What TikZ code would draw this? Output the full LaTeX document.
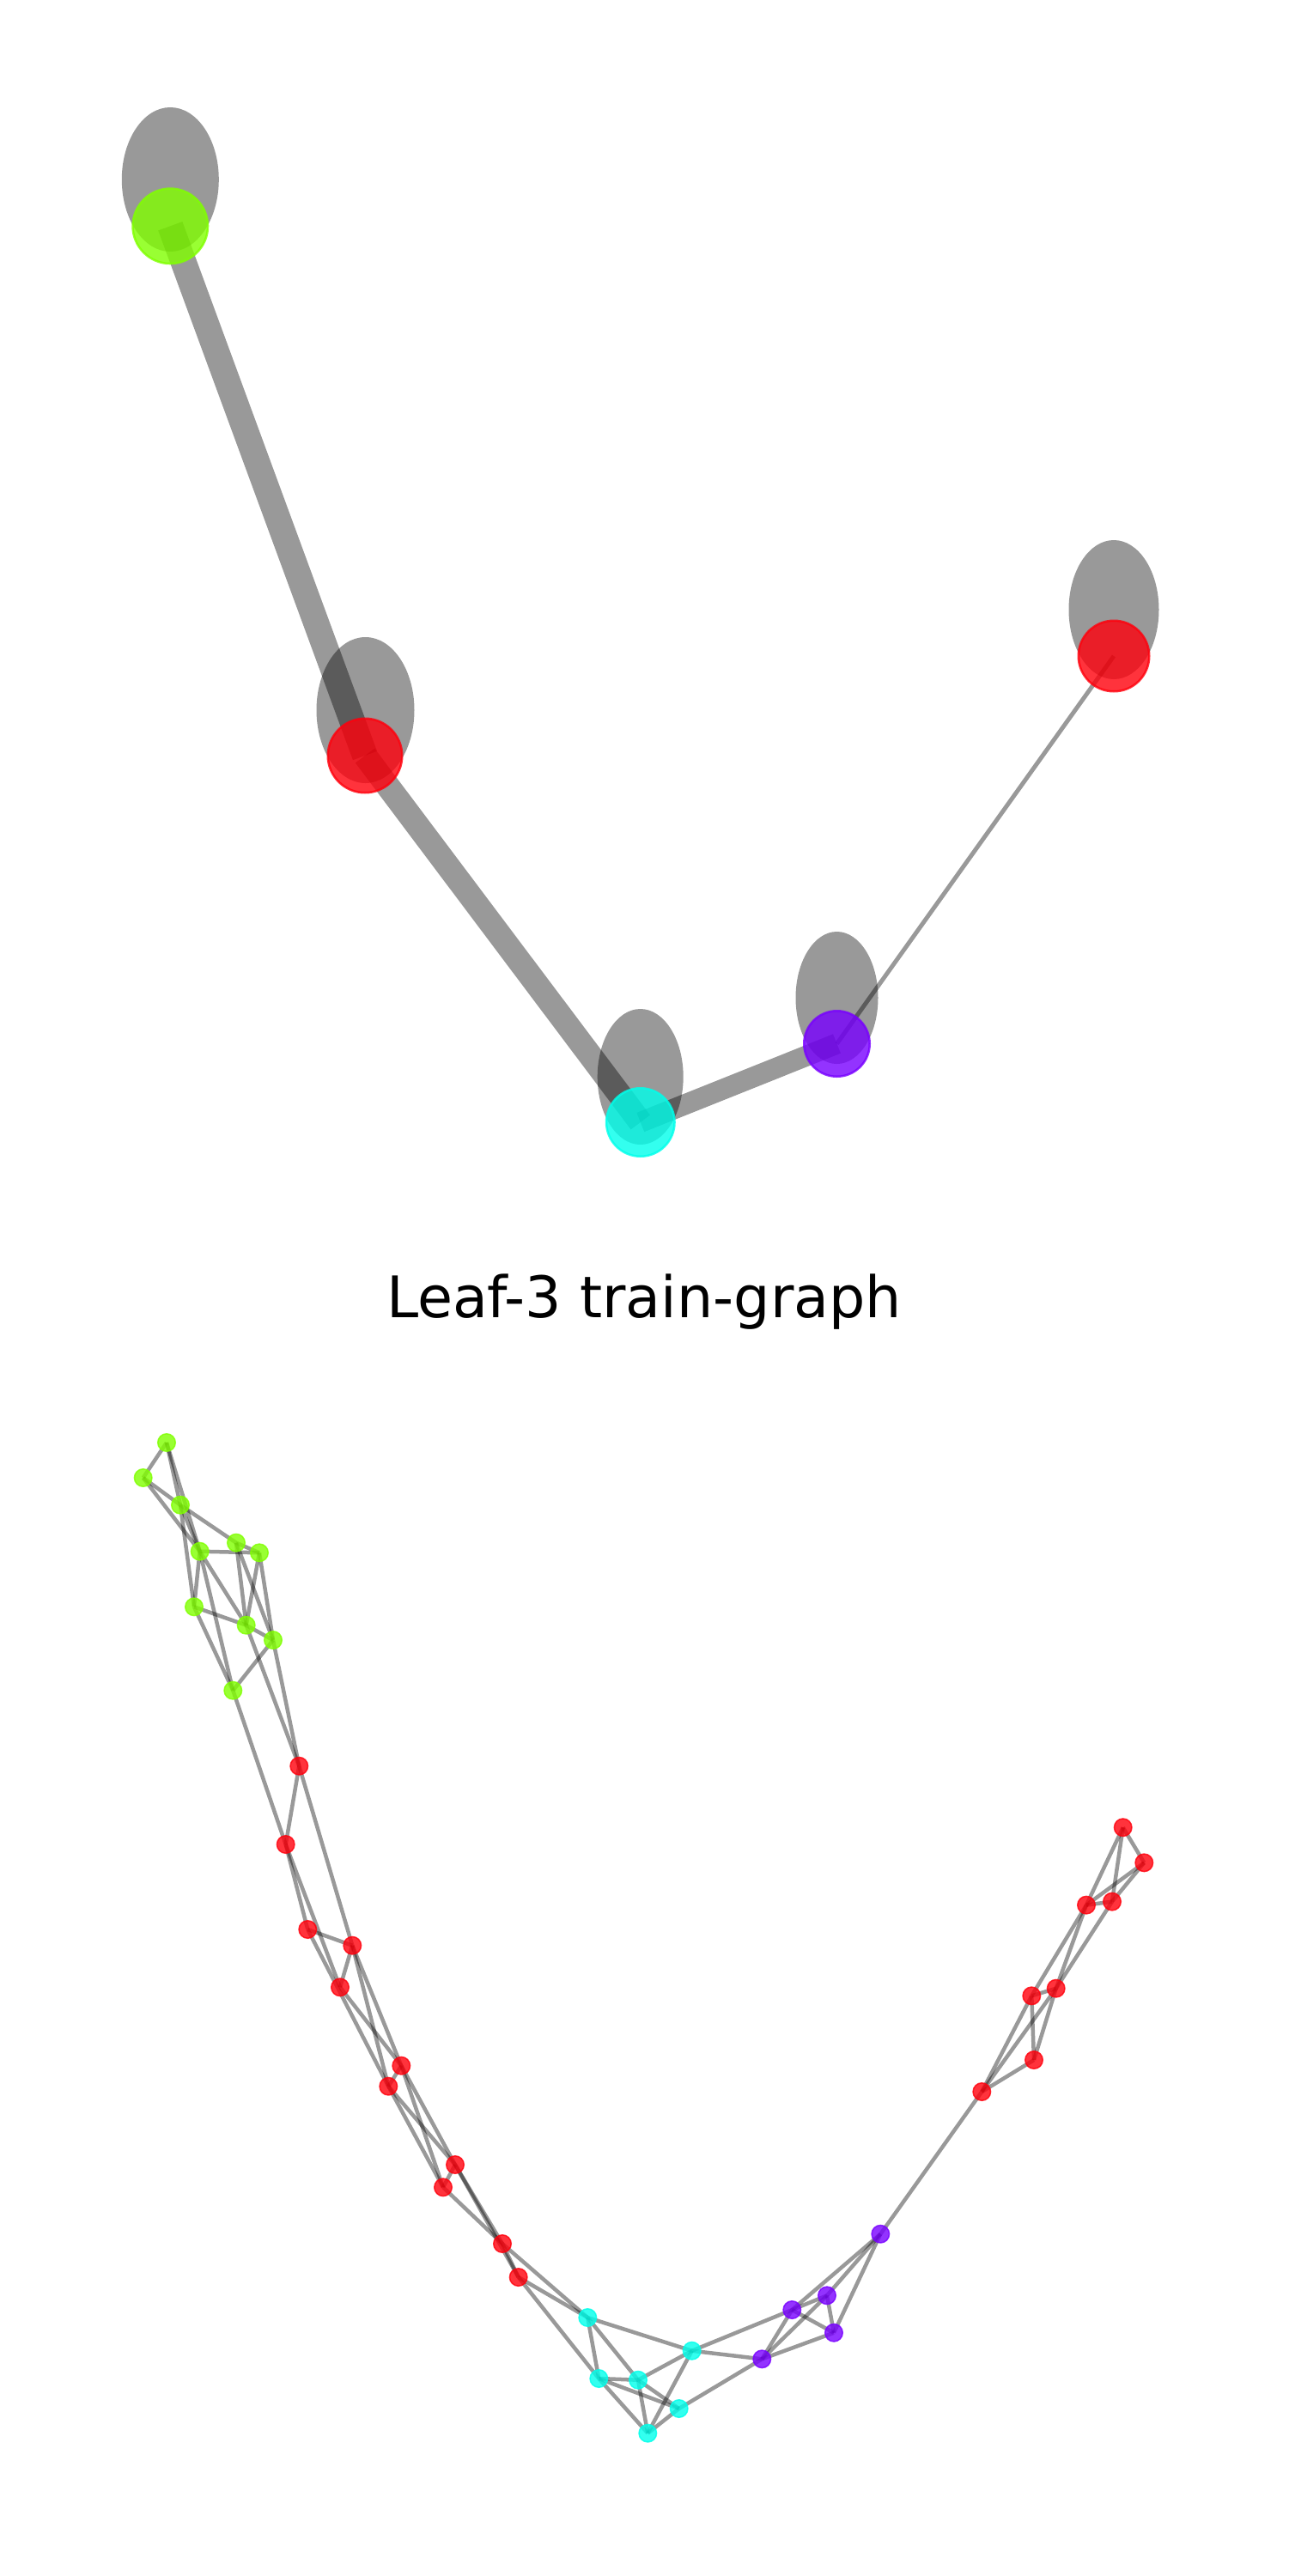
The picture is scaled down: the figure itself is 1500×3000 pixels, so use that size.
\documentclass[tikz,border=0pt]{standalone}
\usepackage{fontspec}
\setmainfont{DejaVu Sans}
\usetikzlibrary{shapes.geometric}
\pgfdeclarelayer{back}
\pgfdeclarelayer{mid}
\pgfsetlayers{back,mid,main}
\definecolor{cgreen}{RGB}{128,255,0}
\definecolor{cred}{RGB}{255,0,12}
\definecolor{ccyan}{RGB}{0,255,235}
\definecolor{cpurple}{RGB}{120,0,255}
\tikzset{
  blob/.style={ellipse, fill=black, fill opacity=0.4, draw=none, inner sep=0pt},
  bigdot/.style={circle, fill=#1, draw=#1, opacity=0.8, line width=2.5pt, inner sep=0pt},
  dot/.style={circle, fill=#1, draw=#1, opacity=0.8, line width=1.5pt, inner sep=0pt, minimum size=20.5pt},
  tedge/.style={draw=black, opacity=0.4, line cap=butt},
  edge/.style={draw=black, opacity=0.4, line width=4.5pt, line cap=butt},
}
\begin{document}
\begin{tikzpicture}[x=1pt,y=-1pt]
\begin{pgfonlayer}{back}
\fill[white] (0,0) rectangle (1500,3000);
\end{pgfonlayer}
\useasboundingbox (0,0) rectangle (1500,3000);

% ---------- top panel ----------
\node[blob, minimum width=113pt, minimum height=168pt] (eA) at (198.3,209) {};
\node[blob, minimum width=114pt, minimum height=170pt] (eB) at (425.5,827) {};
\node[blob, minimum width=100pt, minimum height=158pt] (eC) at (745.7,1254) {};
\node[blob, minimum width=96pt, minimum height=154pt] (eD) at (974.5,1162) {};
\node[blob, minimum width=105pt, minimum height=162pt] (eE) at (1297,710) {};

\node[bigdot=cgreen, minimum size=87.5pt] (A) at (198.3,263.3) {};
\node[bigdot=cred, minimum size=86.5pt] (B) at (425,880) {};
\node[bigdot=ccyan, minimum size=79.5pt] (C) at (745.8,1307) {};
\node[bigdot=cpurple, minimum size=76.5pt] (D) at (974.5,1215.5) {};
\node[bigdot=cred, minimum size=82.5pt] (E) at (1297,764) {};

\begin{pgfonlayer}{mid}
\draw[tedge, line width=30pt] (A.center) -- (B.center);
\draw[tedge, line width=28pt] (B.center) -- (C.center);
\draw[tedge, line width=24pt] (C.center) -- (D.center);
\draw[tedge, line width=5pt] (D.center) -- (E.center);
\end{pgfonlayer}

% ---------- title ----------
\node[anchor=base, inner sep=0pt, font=\fontsize{66.7}{80}\selectfont] (title) at (750,1534) {Leaf-3 train-graph};

% ---------- lower graph ----------
\foreach \n/\x/\y in {g1/194/1680, g2/166.7/1721, g3/210/1752.7, g4/232.7/1806.7, g5/275/1796.7,
  g6/302/1808.3, g7/226/1871.3, g8/286.7/1892.7, g9/318/1910, g10/271.3/1968.7}
  \node[dot=cgreen] (\n) at (\x,\y) {};
\foreach \n/\x/\y in {r1/348.3/2056.7, r2/332.7/2148, r3/358.3/2247, r4/410.3/2265.7, r5/396/2314.3,
  r6/467.3/2405.7, r7/452.3/2429.7, r8/530/2521, r9/516/2547.3, r10/585/2613, r11/603.7/2652,
  q1/1143.3/2436, q2/1204/2399, q3/1201.3/2324.3, q4/1229.7/2315.7, q5/1265/2218.6,
  q6/1295/2214.6, q7/1332.3/2169.3, q8/1307.7/2128.2}
  \node[dot=cred] (\n) at (\x,\y) {};
\foreach \n/\x/\y in {c1/684.3/2699, c2/805.7/2737.7, c3/697.3/2770, c4/743/2771.7, c5/790.7/2805, c6/754.3/2833.7}
  \node[dot=ccyan] (\n) at (\x,\y) {};
\foreach \n/\x/\y in {p1/1025.3/2601.7, p2/963/2673.3, p3/922.3/2690, p4/971/2716.7, p5/887.3/2747.3}
  \node[dot=cpurple] (\n) at (\x,\y) {};

\begin{pgfonlayer}{mid}
\foreach \a/\b in {g1/g2, g1/g3, g1/g4, g2/g3, g2/g4, g3/g4, g3/g5, g3/g7, g4/g6, g4/g7, g4/g8, g4/g10,
  g5/g6, g5/g8, g5/g9, g6/g8, g6/g9, g7/g8, g7/g10, g8/g9, g9/g10, g8/r1, g9/r1, g10/r2,
  r1/r2, r1/r4, r2/r3, r2/r5, r3/r4, r3/r7, r4/r5, r4/r6, r4/r7, r5/r6, r6/r7, r6/r8, r6/r9,
  r7/r8, r7/r9, r8/r9, r8/r10, r8/r11, r9/r10, r10/r11, r10/c1, r11/c1, r11/c3,
  c1/c2, c1/c3, c1/c4, c3/c4, c3/c5, c3/c6, c4/c2, c4/c5, c4/c6, c2/c6, c5/c6, c2/p5, c2/p3, c5/p5,
  p5/p3, p5/p2, p5/p4, p3/p2, p3/p4, p3/p1, p2/p1, p2/p4, p4/p1, p1/q1,
  q1/q2, q1/q3, q1/q4, q2/q3, q2/q4, q3/q4, q3/q5, q4/q5, q4/q6, q5/q6, q5/q8, q5/q7, q6/q8, q6/q7, q8/q7}
  \draw[edge] (\a.center) -- (\b.center);
\end{pgfonlayer}
\end{tikzpicture}
\end{document}
